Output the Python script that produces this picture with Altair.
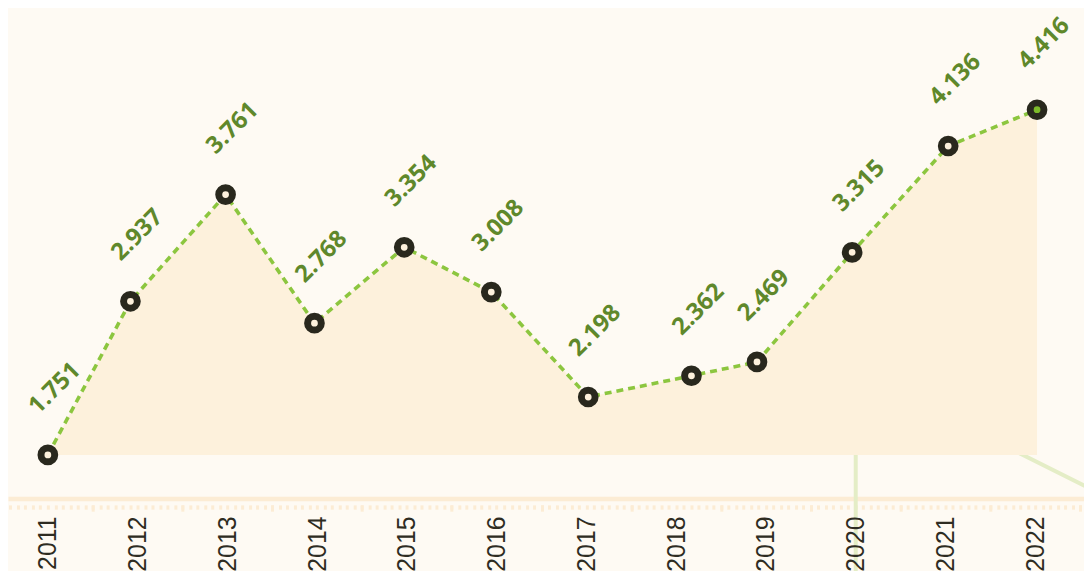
import altair as alt
import pandas as pd

# ---- data ----
years = [2011, 2012, 2013, 2014, 2015, 2016, 2017, 2018, 2019, 2020, 2021, 2022]
# position of each observation on the time axis (fractional years)
t_pos = [2011.50, 2012.42, 2013.48, 2014.47, 2015.47, 2016.44,
         2017.52, 2018.67, 2019.40, 2020.46, 2021.53, 2022.52]
values = [1.751, 2.937, 3.761, 2.768, 3.354, 3.008,
          2.198, 2.362, 2.469, 3.315, 4.136, 4.416]

# axis tick positions
label_pos = [y + 0.5 for y in years]
major_ticks = [2011 + i for i in range(14)]
minor_ticks = [2011 + m / 12 for m in range(0, 12 * 13)]

# decorative leader lines (data units)
leaders = pd.DataFrame({
    "x": [2020.5, 2022.07],
    "x2": [2020.5, 2023.2],
    "y": [2.3, 1.852],
    "y2": [0.8, 1.46],
})

df = pd.DataFrame({"year": years, "t": t_pos, "value": values})

BG = "#fefaf3"
AREA = "#fdf1dc"
LINE = "#8cc63f"
RING = "#29281d"
LABEL = "#5f882b"
AXIS = "#fcecd4"

xs = alt.Scale(domain=[2011.056, 2023.043], nice=False, zero=False)
ys = alt.Scale(domain=[1.4142, 5.1935], nice=False, zero=False)

base = alt.Chart(df)

leader_layer = alt.Chart(leaders).mark_rule(
    color="#e4edc6", strokeWidth=4, strokeCap="round"
).encode(
    x=alt.X("x:Q", scale=xs, axis=None),
    x2="x2:Q",
    y=alt.Y("y:Q", scale=ys, axis=None),
    y2="y2:Q",
)

area = base.transform_joinaggregate(vmin="min(value)").mark_area(
    color=AREA, opacity=1
).encode(
    x=alt.X("t:Q", scale=xs, axis=alt.Axis(
        domain=True, domainColor=AXIS, domainWidth=4.5, ticks=False,
        labels=False, grid=False, title=None, orient="bottom")),
    y=alt.Y("value:Q", scale=ys, axis=None),
    y2="vmin:Q",
)

line = base.mark_line(
    color=LINE, strokeWidth=3.6, strokeDash=[7, 5], strokeCap="butt"
).encode(
    x=alt.X("t:Q", scale=xs, axis=alt.Axis(
        values=minor_ticks, domain=False, ticks=True, tickSize=4.3,
        tickWidth=3, tickColor=AXIS, labels=False, grid=False,
        title=None, offset=6.4, orient="bottom")),
    y=alt.Y("value:Q", scale=ys, axis=None),
)

last_t = max(t_pos)
points = base.mark_point(
    shape="circle", size=190, stroke=RING, strokeWidth=7, opacity=1,
    fillOpacity=1, filled=False
).encode(
    x=alt.X("t:Q", scale=xs, axis=alt.Axis(
        values=major_ticks, domain=False, ticks=True, tickSize=6.3,
        tickWidth=3, tickColor=AXIS, labels=False, grid=False,
        title=None, offset=6.4, orient="bottom")),
    y=alt.Y("value:Q", scale=ys, axis=None),
    fill=alt.condition(f"datum.t == {last_t}", alt.value("#7dbb2a"), alt.value(AREA)),
)

labels = base.mark_text(
    angle=315, align="center", baseline="middle", dx=52, dy=-42,
    font="Open Sans", fontWeight="bold", fontSize=24, color=LABEL
).encode(
    x=alt.X("t:Q", scale=xs, axis=alt.Axis(
        values=label_pos, labelExpr="toString(floor(datum.value))",
        domain=False, ticks=False, tickSize=0, grid=False, title=None,
        labelAngle=-90, labelPadding=17.4, labelFontSize=25,
        labelFont="Liberation Sans", labelColor="#2e2c22",
        labelOverlap=False, labelFlush=False, labelBound=False,
        orient="bottom", zindex=2)),
    y=alt.Y("value:Q", scale=ys, axis=None),
    text=alt.Text("value:Q", format=".3f"),
)

chart = alt.layer(leader_layer, area, line, points, labels).resolve_axis(
    x="independent"
).properties(
    width=1080,
    height=491.3,
    autosize=alt.AutoSizeParams(type="none"),
    padding={"left": 0, "top": 0, "right": 0, "bottom": 72},
    background=BG,
).configure_view(stroke=None)

chart.save("out.html", embed_options={"renderer": "svg", "actions": False})
